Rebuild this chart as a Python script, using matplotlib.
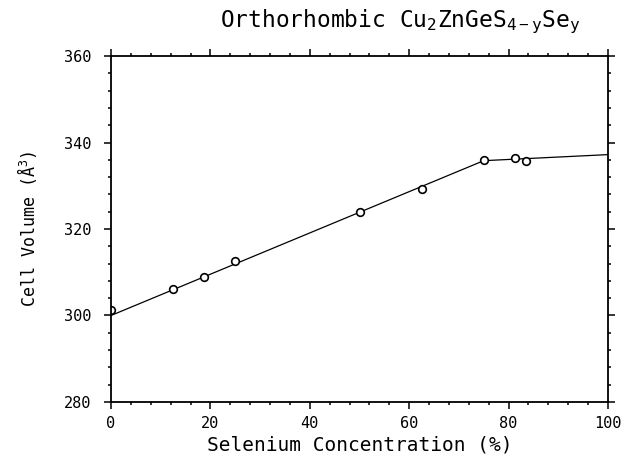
import matplotlib
matplotlib.use("Agg")
import matplotlib.pyplot as plt
from matplotlib.ticker import MultipleLocator

plt.rcParams['font.family'] = ['DejaVu Sans Mono']
plt.rcParams['mathtext.default'] = 'regular'

# measured points
se_conc = [0, 12.5, 18.75, 25, 50, 62.5, 75, 81.25, 83.5]
cell_vol = [301.2, 306.1, 308.9, 312.5, 324.0, 329.3, 336.0, 336.4, 335.8]

# fitted lines
fit_x = [0, 75, 100]
fit_y = [300.0, 335.8, 337.2]

fig = plt.figure(figsize=(6.25, 4.61), dpi=100)
ax = fig.add_axes([0.1776, 0.128, 0.7952, 0.7505])

ax.plot(fit_x, fit_y, color='black', lw=0.9)
ax.plot(se_conc, cell_vol, 'o', mfc='white', mec='black', ms=5.5, mew=1.2)

ax.set_xlim(0, 100)
ax.set_ylim(280, 360)
ax.xaxis.set_major_locator(MultipleLocator(20))
ax.xaxis.set_minor_locator(MultipleLocator(4))
ax.yaxis.set_major_locator(MultipleLocator(20))
ax.yaxis.set_minor_locator(MultipleLocator(4))
ax.tick_params(which='both', direction='out', top=True, right=True,
               labelsize=11, width=1.1)
ax.tick_params(which='major', length=5)
ax.tick_params(which='minor', length=2.5)
ax.tick_params(axis='x', which='major', pad=5)
ax.tick_params(axis='y', which='major', pad=9)
for s in ax.spines.values():
    s.set_linewidth(1.3)

ax.set_xlabel('Selenium Concentration (%)', fontsize=14, labelpad=3)
ax.set_ylabel('Cell Volume ($\\AA^3$)', fontsize=12, labelpad=18)
fig.text(0.64, 0.952, 'Orthorhombic Cu$_2$ZnGeS$_{4-y}$Se$_y$',
         fontsize=16.5, ha='center', va='center')

plt.savefig('out.png', dpi=100)
